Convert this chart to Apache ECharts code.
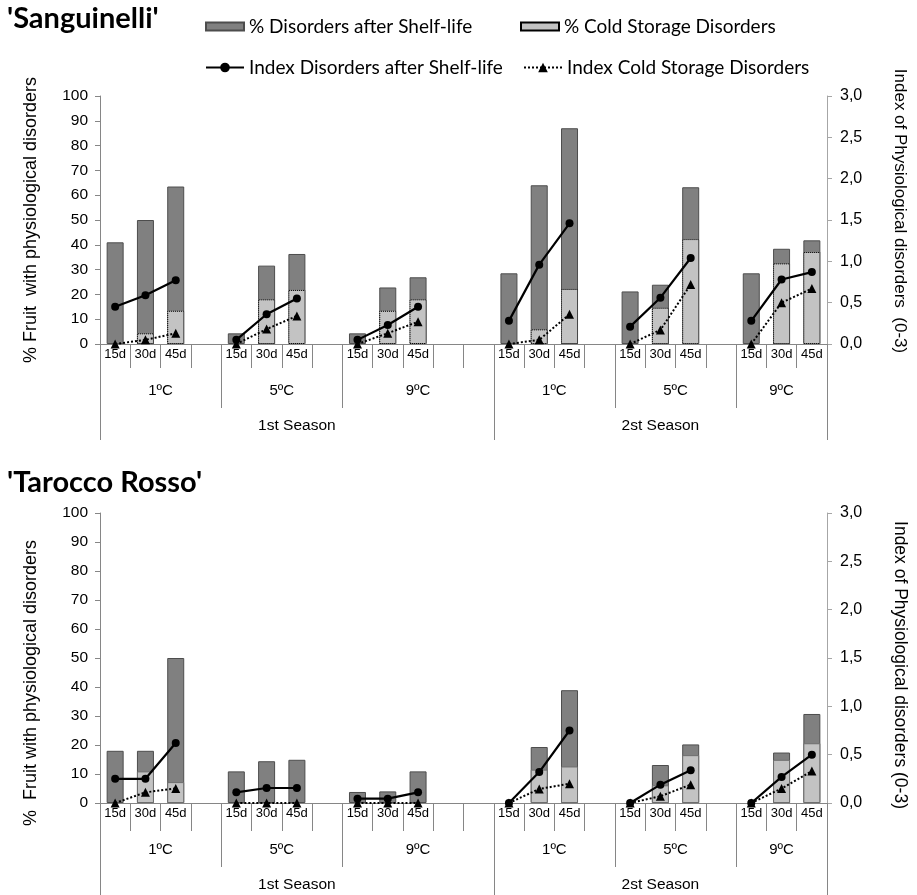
<!DOCTYPE html>
<html>
<head>
<meta charset="utf-8">
<script src="https://cdn.jsdelivr.net/npm/echarts@6/dist/echarts.min.js"></script>
<style>
  html, body { margin: 0; padding: 0; background: #fff; }
  #chart { width: 917px; height: 895px; }
</style>
</head>
<body>
<div id="chart"></div>
<script>
// Storage periods along the x axis; empty strings are spacer cells between temperature groups
const categories = ['15d','30d','45d','', '15d','30d','45d','', '15d','30d','45d','','',
                    '15d','30d','45d','', '15d','30d','45d','', '15d','30d','45d'];
const tempNames = ['1ºC','5ºC','9ºC','1ºC','5ºC','9ºC'];
const tempSpans = [4, 4, 5, 4, 4, 3];
const seasonNames = ['1st Season', '2st Season'];
const seasonSpans = [13, 11];

const leftTicks = { min: 0, max: 100, interval: 10 };
const rightTicks = { min: 0, max: 3, interval: 0.5 };

// 'Sanguinelli'
const sangShelfPct = [41, 50, 63.5, null, 4.3, 31.6, 36.3, null, 4.3, 22.8, 26.9, null, null,
                      28.5, 64, 87, null, 21.2, 23.9, 63.2, null, 28.5, 38.4, 41.8];
const sangColdPct  = [0, 4.3, 13.4, null, 0, 18, 21.8, null, 0, 13.4, 18, null, null,
                      0, 5.9, 22.2, null, 0, 14.6, 42.3, null, 0, 32.5, 37.1];
const sangShelfIdx = [0.45, 0.59, 0.77, null, 0.05, 0.36, 0.55, null, 0.05, 0.23, 0.45, null, null,
                      0.28, 0.96, 1.46, null, 0.21, 0.56, 1.04, null, 0.28, 0.78, 0.87];
const sangColdIdx  = [0, 0.05, 0.13, null, 0, 0.18, 0.34, null, 0, 0.13, 0.27, null, null,
                      0, 0.05, 0.36, null, 0, 0.17, 0.72, null, 0, 0.5, 0.67];

// 'Tarocco Rosso'
const taroShelfPct = [18, 18, 50, null, 10.9, 14.4, 14.9, null, 3.8, 4, 10.9, null, null,
                      0, 19.3, 38.9, null, 0, 13.1, 20.2, null, 0, 17.4, 30.7];
const taroColdPct  = [0, 10.9, 7.2, null, 0, 0, 0, null, 0, 0, 0, null, null,
                      0, 11.5, 12.6, null, 0, 6.1, 16.5, null, 0, 14.9, 20.6];
const taroShelfIdx = [0.25, 0.25, 0.62, null, 0.11, 0.155, 0.155, null, 0.045, 0.045, 0.11, null, null,
                      0, 0.32, 0.75, null, 0, 0.19, 0.34, null, 0, 0.27, 0.5];
const taroColdIdx  = [0, 0.11, 0.15, null, 0, 0, 0, null, 0, 0, 0, null, null,
                      0, 0.145, 0.2, null, 0, 0.07, 0.19, null, 0, 0.15, 0.33];

const NAME_SHELF_PCT = '% Disorders after Shelf-life';
const NAME_COLD_PCT = '% Cold Storage Disorders';
const NAME_SHELF_IDX = 'Index Disorders after Shelf-life';
const NAME_COLD_IDX = 'Index Cold Storage Disorders';

const AXIS_GREY = '#868686';
const RIGHT_GREY = '#a6a6a6';
const ARIAL = "'Liberation Sans', Arial, sans-serif";
const CALIBRI = "Lato, 'Open Sans', sans-serif";

// group boundaries and centres along the category band (0..24)
function bounds(spans) {
  const out = [0];
  spans.forEach(s => out.push(out[out.length - 1] + s));
  return out;
}
function centres(spans) {
  const b = bounds(spans);
  return spans.map((s, i) => b[i] + s / 2);
}
const tempBounds = bounds(tempSpans);
const seasonBounds = bounds(seasonSpans);
const tempCentres = centres(tempSpans);
const seasonCentres = centres(seasonSpans);
const innerTempBounds = tempBounds.filter(v => seasonBounds.indexOf(v) < 0);

function labelFor(list, names) {
  return v => {
    const i = list.findIndex(c => Math.abs(c - v) < 1e-6);
    return i >= 0 ? names[i] : '';
  };
}

// zero-height bars carry no outline
function barData(values) {
  return values.map(v => (v === 0 ? { value: 0, itemStyle: { borderWidth: 0 } } : v));
}

const grids = [
  { left: 100, right: 90, top: 96, height: 248, containLabel: false },
  { left: 100, right: 88, top: 513, height: 290, containLabel: false }
];

const xAxes = [];
const yAxes = [];
const leftNames = ['% Fruit  with physiological disorders', '%  Fruit with physiological disorders'];
const rightNames = ['Index of Physiological disorders  (0-3)', 'Index of Physiological disorders (0-3)'];
const tickRowLen = [24, 28];
const seasonTickLen = [96, 92];
const leftNamePad = [[0, 0, 0, 0], [0, 50, 0, 0]];
const rightNamePad = [[0, 18, 0, 0], [0, 0, 0, 14]];
const rightNameSize = [17, 17.5];

grids.forEach((g, gi) => {
  // period cells
  xAxes.push({
    gridIndex: gi, type: 'category', data: categories, position: 'bottom', offset: 0,
    boundaryGap: true,
    axisLine: { show: true, onZero: false, lineStyle: { color: AXIS_GREY, width: 1 } },
    axisTick: { show: true, interval: 0, length: tickRowLen[gi], lineStyle: { color: AXIS_GREY } },
    axisLabel: { interval: 0, margin: 4, fontFamily: ARIAL, fontSize: 13, color: '#000' },
    splitLine: { show: false }
  });
  // temperature groups
  xAxes.push({
    gridIndex: gi, type: 'value', min: 0, max: 24, position: 'bottom', offset: 0,
    axisLine: { show: false, onZero: false },
    axisTick: { show: true, customValues: innerTempBounds, length: 64, lineStyle: { color: AXIS_GREY } },
    axisLabel: { customValues: tempCentres, formatter: labelFor(tempCentres, tempNames),
                 margin: 39, fontFamily: ARIAL, fontSize: 15, color: '#000' },
    splitLine: { show: false }
  });
  // seasons
  xAxes.push({
    gridIndex: gi, type: 'value', min: 0, max: 24, position: 'bottom', offset: 0,
    axisLine: { show: false, onZero: false },
    axisTick: { show: true, customValues: seasonBounds, length: seasonTickLen[gi], lineStyle: { color: AXIS_GREY } },
    axisLabel: { customValues: seasonCentres, formatter: labelFor(seasonCentres, seasonNames),
                 margin: 74, fontFamily: ARIAL, fontSize: 15.5, color: '#000' },
    splitLine: { show: false }
  });

  yAxes.push({
    gridIndex: gi, type: 'value', position: 'left',
    min: leftTicks.min, max: leftTicks.max, interval: leftTicks.interval,
    name: leftNames[gi], nameLocation: 'middle', nameGap: 60, nameRotate: 90,
    nameTextStyle: { fontFamily: ARIAL, fontSize: 18, color: '#000', padding: leftNamePad[gi] },
    axisLine: { show: true, onZero: false, lineStyle: { color: AXIS_GREY } },
    axisTick: { show: true, length: 5, lineStyle: { color: AXIS_GREY } },
    axisLabel: { margin: 12, fontFamily: ARIAL, fontSize: 15.5, color: '#000' },
    splitLine: { show: false }
  });
  yAxes.push({
    gridIndex: gi, type: 'value', position: 'right',
    min: rightTicks.min, max: rightTicks.max, interval: rightTicks.interval,
    name: rightNames[gi], nameLocation: 'middle', nameGap: 64, nameRotate: -90,
    nameTextStyle: { fontFamily: ARIAL, fontSize: rightNameSize[gi], color: '#000', padding: rightNamePad[gi] },
    axisLine: { show: true, onZero: false, lineStyle: { color: RIGHT_GREY } },
    axisTick: { show: true, length: 5, lineStyle: { color: RIGHT_GREY } },
    axisLabel: { margin: 13, fontFamily: ARIAL, fontSize: 16, color: '#000',
                 formatter: v => v.toFixed(1).replace('.', ',') },
    splitLine: { show: false }
  });
});

function seriesFor(gi, shelfPct, coldPct, shelfIdx, coldIdx, coldBorder) {
  const xi = gi * 3, yl = gi * 2, yr = gi * 2 + 1;
  return [
    {
      name: NAME_SHELF_PCT, type: 'bar', xAxisIndex: xi, yAxisIndex: yl,
      data: barData(shelfPct), barWidth: 17, barGap: '-100%',
      itemStyle: { color: '#808080', borderColor: '#4d4d4d', borderWidth: 1 }
    },
    {
      name: NAME_COLD_PCT, type: 'bar', xAxisIndex: xi, yAxisIndex: yl,
      data: barData(coldPct), barWidth: 17, barGap: '-100%',
      itemStyle: Object.assign({ color: '#c3c3c3', borderWidth: 1 }, coldBorder)
    },
    {
      name: NAME_SHELF_IDX, type: 'line', xAxisIndex: xi, yAxisIndex: yr,
      data: shelfIdx, connectNulls: false, symbol: 'circle', symbolSize: 8,
      itemStyle: { color: '#000' }, lineStyle: { color: '#000', width: 2.2 }
    },
    {
      name: NAME_COLD_IDX, type: 'line', xAxisIndex: xi, yAxisIndex: yr,
      data: coldIdx, connectNulls: false, symbol: 'triangle', symbolSize: 9,
      itemStyle: { color: '#000' }, lineStyle: { color: '#000', width: 2, type: 'dotted' }
    }
  ];
}

const series = [].concat(
  seriesFor(0, sangShelfPct, sangColdPct, sangShelfIdx, sangColdIdx,
            { borderColor: '#000', borderType: 'dotted' }),
  seriesFor(1, taroShelfPct, taroColdPct, taroShelfIdx, taroColdIdx,
            { borderColor: '#6e6e6e', borderType: 'solid' })
);

const legendText = { fontFamily: CALIBRI, fontSize: 19, color: '#000' };
function legendAt(name, left, top, isLine) {
  return {
    data: [name], left: left, top: top, padding: 0, itemGap: 0,
    itemWidth: 38, itemHeight: isLine ? 12 : 8, icon: isLine ? undefined : 'rect',
    selectedMode: false, textStyle: legendText
  };
}

const option = {
  animation: false,
  backgroundColor: '#fff',
  title: [
    { text: "'Sanguinelli'", left: 7, top: 4, padding: 0,
      textStyle: { fontFamily: CALIBRI, fontWeight: 'bold', fontSize: 29, color: '#000' } },
    { text: "'Tarocco Rosso'", left: 7, top: 468, padding: 0,
      textStyle: { fontFamily: CALIBRI, fontWeight: 'bold', fontSize: 29, color: '#000' } }
  ],
  legend: [
    legendAt(NAME_SHELF_PCT, 205, 17, false),
    legendAt(NAME_COLD_PCT, 520, 17, false),
    legendAt(NAME_SHELF_IDX, 205, 58, true),
    legendAt(NAME_COLD_IDX, 523, 58, true)
  ],
  grid: grids,
  xAxis: xAxes,
  yAxis: yAxes,
  series: series
};

const chart = echarts.init(document.getElementById('chart'), null, { renderer: 'canvas' });
chart.setOption(option);
</script>
</body>
</html>
